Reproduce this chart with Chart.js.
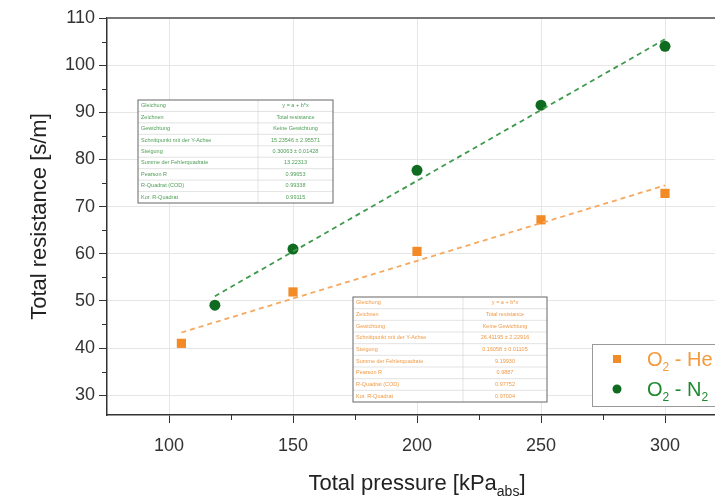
<!DOCTYPE html>
<html>
<head>
<meta charset="utf-8">
<script src="https://cdn.jsdelivr.net/npm/chart.js@4.4.1/dist/chart.umd.min.js"></script>
<style>
  html, body { margin: 0; padding: 0; background: #fff; overflow: hidden; }
  #wrap { position: relative; width: 740px; height: 497px; }
</style>
</head>
<body>
<div id="wrap"><canvas id="chart"></canvas></div>
<script>
const heX = [105, 150, 200, 250, 300];
const heY = [41.0, 51.9, 60.5, 67.2, 72.8];
const n2X = [118.5, 150, 200, 250, 300];
const n2Y = [49.1, 61.0, 77.7, 91.5, 104.0];

// linear fit end points (dashed lines)
const heFitX = [105, 300];
const heFitY = [43.3, 74.5];
const n2FitX = [118.5, 300];
const n2FitY = [51.0, 105.5];

// ticks
const xTicks = [100, 150, 200, 250, 300];
const xMinor = [125, 175, 225, 275];
const yTicks = [30, 40, 50, 60, 70, 80, 90, 100, 110];
const yMinor = [35, 45, 55, 65, 75, 85, 95, 105];

// fit report tables (Origin)
const fitRows = ['Gleichung', 'Zeichnen', 'Gewichtung', 'Schnittpunkt mit der Y-Achse', 'Steigung',
  'Summe der Fehlerquadrate', 'Pearson R', 'R-Quadrat (COD)', 'Kor. R-Quadrat'];
const n2FitVals = ['y = a + b*x', 'Total resistance', 'Keine Gewichtung', '15.23546 ± 2.95571', '0.30063 ± 0.01428',
  '13.22313', '0.99653', '0.99338', '0.99115'];
const heFitVals = ['y = a + b*x', 'Total resistance', 'Keine Gewichtung', '26.41195 ± 2.22916', '0.16058 ± 0.01105',
  '9.19930', '0.9887', '0.97752', '0.97004'];

const orange = '#f28a26';
const green = '#0f6b20';

const pts = (xs, ys) => xs.map((x, i) => ({ x, y: ys[i] }));

function richText(ctx, x, y, parts, size, color) {
  ctx.fillStyle = color;
  ctx.textBaseline = 'alphabetic';
  ctx.textAlign = 'left';
  let cx = x;
  parts.forEach(p => {
    const s = p.sub ? Math.round(size * 0.62) : size;
    ctx.font = s + 'px "Liberation Sans", Arial, sans-serif';
    ctx.fillText(p.t, cx, p.sub ? y + size * 0.25 : y);
    cx += ctx.measureText(p.t).width;
  });
  return cx - x;
}

function measureRich(ctx, parts, size) {
  let w = 0;
  parts.forEach(p => {
    const s = p.sub ? Math.round(size * 0.62) : size;
    ctx.font = s + 'px "Liberation Sans", Arial, sans-serif';
    w += ctx.measureText(p.t).width;
  });
  return w;
}

function drawTable(ctx, left, top, w, h, split, vals, color) {
  const rowH = h / fitRows.length;
  ctx.save();
  ctx.fillStyle = '#fff';
  ctx.fillRect(left, top, w, h);
  ctx.strokeStyle = '#d0d0d0';
  ctx.lineWidth = 0.6;
  for (let i = 1; i < fitRows.length; i++) {
    ctx.beginPath();
    ctx.moveTo(left, top + i * rowH);
    ctx.lineTo(left + w, top + i * rowH);
    ctx.stroke();
  }
  ctx.beginPath();
  ctx.moveTo(left + split, top);
  ctx.lineTo(left + split, top + h);
  ctx.stroke();
  ctx.strokeStyle = '#666';
  ctx.lineWidth = 1;
  ctx.strokeRect(left, top, w, h);
  ctx.font = '5.5px "Liberation Sans", Arial, sans-serif';
  ctx.fillStyle = color;
  ctx.textBaseline = 'middle';
  fitRows.forEach((r, i) => {
    const cy = top + (i + 0.5) * rowH;
    ctx.textAlign = 'left';
    ctx.fillText(r, left + 3, cy);
    ctx.textAlign = 'center';
    ctx.fillText(vals[i], left + split + (w - split) / 2, cy);
  });
  ctx.restore();
}

const extras = {
  id: 'extras',
  beforeDatasetsDraw(chart) {
    const { ctx, chartArea: ca } = chart;
    drawTable(ctx, ca.left + 31, ca.top + 82, 195, 103, 120, n2FitVals, '#4d9e55');
    drawTable(ctx, ca.left + 246, ca.top + 279, 194, 105, 110, heFitVals, '#f09a48');
  },
  afterDraw(chart) {
    const { ctx, chartArea: ca, scales } = chart;
    ctx.save();
    // top frame line
    ctx.strokeStyle = '#777';
    ctx.lineWidth = 2;
    ctx.beginPath();
    ctx.moveTo(ca.left, ca.top);
    ctx.lineTo(ca.right, ca.top);
    ctx.stroke();
    // minor ticks
    ctx.strokeStyle = '#333';
    ctx.lineWidth = 1;
    yMinor.forEach(v => {
      const py = Math.round(scales.y.getPixelForValue(v)) + 0.5;
      ctx.beginPath();
      ctx.moveTo(ca.left - 5, py);
      ctx.lineTo(ca.left, py);
      ctx.stroke();
    });
    xMinor.forEach(v => {
      const px = Math.round(scales.x.getPixelForValue(v)) + 0.5;
      ctx.beginPath();
      ctx.moveTo(px, ca.bottom);
      ctx.lineTo(px, ca.bottom + 5);
      ctx.stroke();
    });
    // axis titles
    ctx.fillStyle = '#222';
    ctx.font = '22px "Liberation Sans", Arial, sans-serif';
    ctx.textAlign = 'center';
    ctx.textBaseline = 'middle';
    ctx.save();
    ctx.translate(40, (ca.top + ca.bottom) / 2);
    ctx.rotate(-Math.PI / 2);
    ctx.fillText('Total resistance [s/m]', 0, 0);
    ctx.restore();
    const xt = [{ t: 'Total pressure [kPa' }, { t: 'abs', sub: true }, { t: ']' }];
    const xw = measureRich(ctx, xt, 22);
    richText(ctx, 417 - xw / 2, 490, xt, 22, '#222');
    // legend box
    const lx = ca.left + 485, ly = ca.top + 326;
    ctx.fillStyle = '#fff';
    ctx.fillRect(lx, ly, 150, 62);
    ctx.strokeStyle = '#999';
    ctx.lineWidth = 1;
    ctx.strokeRect(lx + 0.5, ly + 0.5, 150, 62);
    ctx.fillStyle = orange;
    ctx.fillRect(lx + 21, ly + 11, 8, 8);
    ctx.fillStyle = green;
    ctx.beginPath();
    ctx.arc(lx + 25, ly + 45, 4.5, 0, Math.PI * 2);
    ctx.fill();
    richText(ctx, lx + 55, ly + 22, [{ t: 'O' }, { t: '2', sub: true }, { t: ' - He' }], 20, '#f39a3c');
    richText(ctx, lx + 55, ly + 52, [{ t: 'O' }, { t: '2', sub: true }, { t: ' - N' }, { t: '2', sub: true }], 20, '#1e8a30');
    ctx.restore();
  }
};

new Chart(document.getElementById('chart'), {
  type: 'scatter',
  data: {
    datasets: [
      {
        label: 'O2 - He fit', type: 'line', data: pts(heFitX, heFitY),
        borderColor: '#f5a85e', borderWidth: 1.8, borderDash: [5, 4], pointRadius: 0, fill: false
      },
      {
        label: 'O2 - N2 fit', type: 'line', data: pts(n2FitX, n2FitY),
        borderColor: '#3f9a4c', borderWidth: 1.8, borderDash: [5, 4], pointRadius: 0, fill: false
      },
      {
        label: 'O2 - He', data: pts(heX, heY), pointStyle: 'rect', pointRadius: 6.5,
        backgroundColor: orange, borderColor: orange, borderWidth: 0
      },
      {
        label: 'O2 - N2', data: pts(n2X, n2Y), pointStyle: 'circle', pointRadius: 5.5,
        backgroundColor: green, borderColor: green, borderWidth: 0
      }
    ]
  },
  options: {
    responsive: true,
    maintainAspectRatio: false,
    animation: false,
    devicePixelRatio: 1,
    layout: { padding: { top: 18, right: 13, bottom: 0, left: 0 } },
    plugins: { legend: { display: false }, tooltip: { enabled: false } },
    scales: {
      x: {
        type: 'linear', min: 75, max: 325,
        afterBuildTicks: s => { s.ticks = xTicks.map(v => ({ value: v })); },
        afterFit: s => { s.height = 82; },
        ticks: { color: '#333', font: { size: 18, family: '"Liberation Sans", Arial, sans-serif' }, padding: 12 },
        grid: { color: '#e6e6e6', tickColor: '#333', tickLength: 8 },
        border: { color: '#333', width: 1.5 }
      },
      y: {
        min: 25.8, max: 110,
        afterBuildTicks: s => { s.ticks = yTicks.map(v => ({ value: v })); },
        afterFit: s => { s.width = 107; },
        ticks: { color: '#333', font: { size: 18, family: '"Liberation Sans", Arial, sans-serif' }, padding: 4 },
        grid: { color: '#e6e6e6', tickColor: '#333', tickLength: 8 },
        border: { color: '#333', width: 1.5 }
      }
    }
  },
  plugins: [extras]
});
</script>
</body>
</html>
